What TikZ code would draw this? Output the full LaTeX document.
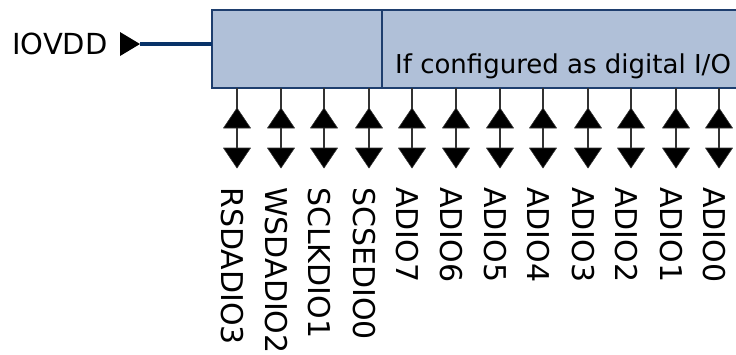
\documentclass[tikz,border=0pt]{standalone}
\usepackage{fontspec}
\setmainfont{DejaVu Sans}
\definecolor{boxfill}{RGB}{176,192,216}
\definecolor{boxline}{RGB}{30,62,110}
\definecolor{navy}{RGB}{8,50,104}
\definecolor{pinline}{RGB}{50,50,50}
\tikzset{
  blockbox/.style={draw=boxline,line width=1.2pt,fill=boxfill},
  pinwire/.style={draw=pinline,line width=1.6pt},
  tri/.style={fill=black,draw=pinline,line width=0.6pt,line join=round},
  pinlabel/.style={rotate=-90,anchor=west,inner sep=0pt,font=\fontsize{30}{36}\selectfont},
  supplylabel/.style={anchor=west,inner sep=0pt,font=\fontsize{29}{34}\selectfont},
  innertext/.style={anchor=base west,inner sep=0pt,font=\fontsize{26}{31}\selectfont},
  supplywire/.style={draw=navy,line width=3.5pt}
}
\begin{document}
\begin{tikzpicture}[x=1pt,y=-1pt]
\useasboundingbox (0,0) rectangle (736,354);
\clip (0,0) rectangle (736,354);
% block
\draw[blockbox] (212,10) rectangle (745,88);
\coordinate (blkL) at (212,44);
\coordinate (divT) at (382,10);
\coordinate (divB) at (382,88);
\draw[draw=boxline,line width=1.2pt] (divT) -- (divB);
\node[innertext] (cfg) at (395,73) {If configured as digital I/O};
% supply
\node[supplylabel] (vdd) at (12,44) {IOVDD};
\coordinate (vddtip) at (140,44);
\draw[supplywire] (vddtip) -- (blkL);
\fill[black] (120,32) -- (vddtip) -- (120,56) -- cycle;
% pins
\foreach \x/\t [count=\i] in {237/RSDADIO3,281/WSDADIO2,324/SCLKDIO1,369/SCSEDIO0,412/ADIO7,456/ADIO6,500/ADIO5,543/ADIO4,588/ADIO3,631/ADIO2,676/ADIO1,719/ADIO0}{
  \coordinate (pt\i) at (\x,88);
  \coordinate (pb\i) at (\x,166);
  \draw[pinwire] (pt\i) -- (pb\i);
  \draw[tri] (\x,108) -- (\x-13.5,128) -- (\x+13.5,128) -- cycle;
  \draw[tri] (\x,168) -- (\x-13.5,148) -- (\x+13.5,148) -- cycle;
  \node[pinlabel] (lab\i) at (\x-5,187) {\t};
}
\end{tikzpicture}
\end{document}
